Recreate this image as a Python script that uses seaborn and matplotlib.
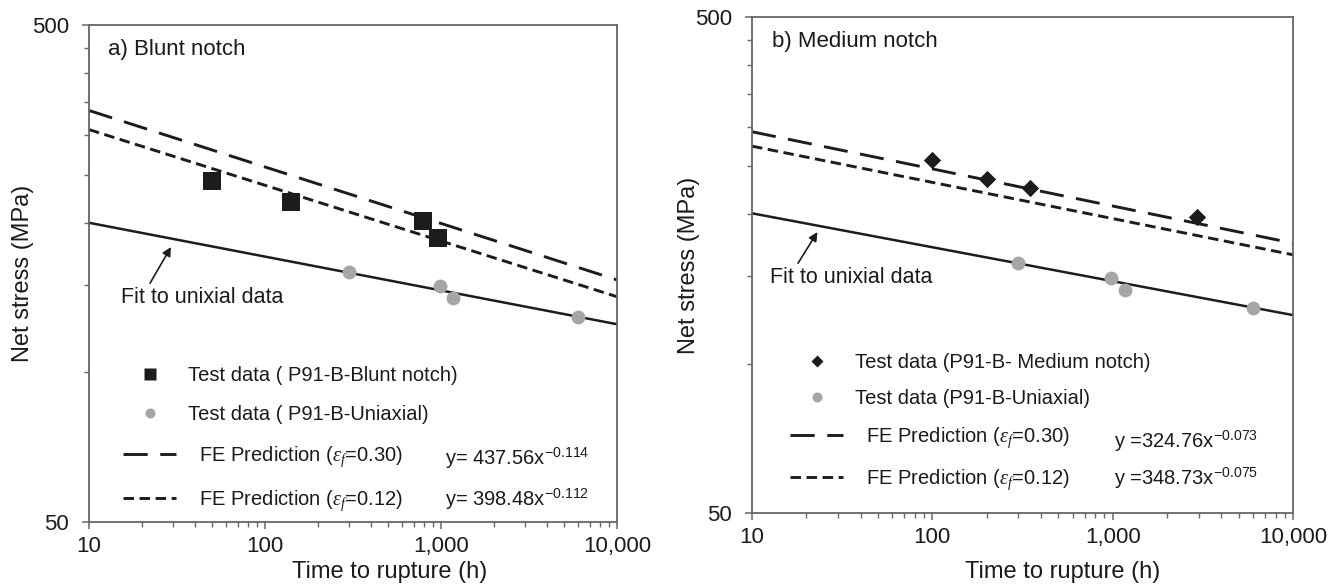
import numpy as np
import pandas as pd
import matplotlib
matplotlib.use("Agg")
import matplotlib.pyplot as plt
from matplotlib.lines import Line2D
from matplotlib.ticker import FixedLocator, FixedFormatter, NullFormatter, LogLocator
import seaborn as sns

# ---------------- data ----------------
x_tick_vals = [10, 100, 1000, 10000]
x_tick_labels = ["10", "100", "1,000", "10,000"]
y_tick_vals = [50, 500]
y_tick_labels = ["50", "500"]
y_minor_vals = [100, 150, 200, 250, 300, 350, 400, 450]

# uniaxial test data (same in both panels)
uni_time = [300, 985, 1165, 6000]
uni_stress = [159.5, 149, 141, 129.5]

# panel a) blunt notch
blunt_time = [50, 140, 795, 960]
blunt_stress = [243, 220, 202, 186]

# panel b) medium notch
medium_time = [100, 202, 347, 2950]
medium_stress = [258, 236, 226, 198]

# line end points (x = 10 and x = 10,000)
line_time = [10, 10000]
a_fit = [200, 125]
a_fe030 = [336.5, 153.5]
a_fe012 = [308, 142]
b_fit = [201, 125.3]
b_fe_dash = [293.5, 175]
b_fe_dot = [274.5, 165.8]

# ---------------- style ----------------
sns.set_style("ticks")
plt.rcParams["font.family"] = ["Liberation Sans", "DejaVu Sans"]
plt.rcParams["mathtext.fontset"] = "custom"
plt.rcParams["mathtext.rm"] = "Liberation Sans"
plt.rcParams["mathtext.sf"] = "Liberation Sans"
plt.rcParams["mathtext.it"] = "Liberation Serif:italic"

TXT = "#1a1a1a"
SPINE = "#666666"
BLACK = "#1c1c1c"
GREY = "#a6a6a6"

fig = plt.figure(figsize=(13.41, 5.88), dpi=100)
axA = fig.add_axes([89 / 1341, 1 - 522 / 588, 528 / 1341, 497 / 588])
axB = fig.add_axes([752 / 1341, 1 - 513 / 588, 541 / 1341, 496 / 588])

DASH = (0, (8.3, 4.3))
DOT = (0, (3.6, 1.9))


def draw_panel(ax, notch_t, notch_s, marker, msize, fit, fe_dash, fe_dot):
    dl = pd.DataFrame({"t": line_time, "fit": fit, "dash": fe_dash, "dot": fe_dot})
    sns.lineplot(data=dl, x="t", y="fit", ax=ax, color=BLACK, lw=1.8)
    sns.lineplot(data=dl, x="t", y="dash", ax=ax, color=BLACK, lw=2.1)
    ax.get_lines()[-1].set_linestyle(DASH)
    sns.lineplot(data=dl, x="t", y="dot", ax=ax, color=BLACK, lw=2.1)
    ax.get_lines()[-1].set_linestyle(DOT)

    du = pd.DataFrame({"t": uni_time, "s": uni_stress})
    sns.scatterplot(data=du, x="t", y="s", ax=ax, color=GREY, marker="o",
                    s=100, linewidth=0, zorder=5)
    dn = pd.DataFrame({"t": notch_t, "s": notch_s})
    sns.scatterplot(data=dn, x="t", y="s", ax=ax, color=BLACK, marker=marker,
                    s=msize, linewidth=0, zorder=6)

    ax.set_xscale("log")
    ax.set_yscale("log")
    ax.set_xlim(10, 10000)
    ax.set_ylim(50, 500)
    ax.xaxis.set_major_locator(FixedLocator(x_tick_vals))
    ax.xaxis.set_major_formatter(FixedFormatter(x_tick_labels))
    ax.xaxis.set_minor_locator(LogLocator(base=10, subs=np.arange(2, 10)))
    ax.xaxis.set_minor_formatter(NullFormatter())
    ax.yaxis.set_major_locator(FixedLocator(y_tick_vals))
    ax.yaxis.set_major_formatter(FixedFormatter(y_tick_labels))
    ax.yaxis.set_minor_locator(FixedLocator(y_minor_vals))
    ax.yaxis.set_minor_formatter(NullFormatter())
    ax.tick_params(which="major", length=5, width=1.1, color=SPINE,
                   labelsize=16, labelcolor=TXT)
    ax.tick_params(which="minor", length=3.8, width=1.0, color=SPINE)
    ax.tick_params(axis="x", which="major", pad=5)
    ax.tick_params(axis="y", which="major", pad=9.5)
    for sp in ax.spines.values():
        sp.set_visible(True)
        sp.set_color(SPINE)
        sp.set_linewidth(1.3)
    ax.set_xlabel("Time to rupture (h)", fontsize=17, color=TXT)
    ax.set_ylabel("Net stress (MPa)", fontsize=17, color=TXT)


draw_panel(axA, blunt_time, blunt_stress, "s", 150, a_fit, a_fe030, a_fe012)
draw_panel(axB, medium_time, medium_stress, "D", 78, b_fit, b_fe_dash, b_fe_dot)

axA.xaxis.set_label_coords(0.570, -0.0785)
axB.xaxis.set_label_coords(0.575, -0.0968)
axA.yaxis.set_label_coords(-0.104, 0.5)
axB.yaxis.set_label_coords(-0.096, 0.5)

# titles
axA.text(0.036, 0.9517, "a) Blunt notch", transform=axA.transAxes, fontsize=16,
         color=TXT, ha="left", va="center")
axB.text(0.037, 0.950, "b) Medium notch", transform=axB.transAxes, fontsize=16,
         color=TXT, ha="left", va="center")

# fit annotations
axA.annotate("Fit to unixial data", xy=(0.1553, 0.5533), xytext=(0.0597, 0.4527),
             xycoords="axes fraction", textcoords="axes fraction", fontsize=15.5,
             color=TXT, ha="left", va="center",
             arrowprops=dict(arrowstyle="-|>", color=BLACK, lw=1.2,
                             mutation_scale=13, shrinkA=0, shrinkB=0,
                             relpos=(0.17, 1.0)))
axB.annotate("Fit to unixial data", xy=(0.121, 0.5665), xytext=(0.0333, 0.4758),
             xycoords="axes fraction", textcoords="axes fraction", fontsize=15.5,
             color=TXT, ha="left", va="center",
             arrowprops=dict(arrowstyle="-|>", color=BLACK, lw=1.2,
                             mutation_scale=13, shrinkA=0, shrinkB=0,
                             relpos=(0.16, 1.0)))

# legends
def legend_for(ax, marker, ms, notch_label, uni_label, anchor, spacing):
    handles = [
        Line2D([], [], ls="", marker=marker, ms=ms, color=BLACK, mec="none"),
        Line2D([], [], ls="", marker="o", ms=7.2, color=GREY, mec="none"),
        Line2D([], [], ls=DASH, lw=2.1, color=BLACK),
        Line2D([], [], ls=DOT, lw=2.1, color=BLACK),
    ]
    labels = [notch_label, uni_label,
              "  FE Prediction ($\\varepsilon_f$=0.30)",
              "  FE Prediction ($\\varepsilon_f$=0.12)"]
    leg = ax.legend(handles, labels, loc="upper left", bbox_to_anchor=anchor,
                    frameon=False, fontsize=14.5, handlelength=2.65,
                    handletextpad=0.6, labelspacing=spacing, borderpad=0,
                    borderaxespad=0, labelcolor=TXT)
    return leg

legend_for(axA, "s", 8.6, "Test data ( P91-B-Blunt notch)",
           "Test data ( P91-B-Uniaxial)", (0.0644, 0.314), 1.0)
legend_for(axB, "D", 6.1, "Test data (P91-B- Medium notch)",
           "Test data (P91-B-Uniaxial)", (0.070, 0.323), 0.87)

# equations
axA.text(0.674, 0.1147, "y= 437.56x$^{-0.114}$", transform=axA.transAxes,
         fontsize=14.5, color=TXT, ha="left", va="baseline")
axA.text(0.674, 0.0322, "y= 398.48x$^{-0.112}$", transform=axA.transAxes,
         fontsize=14.5, color=TXT, ha="left", va="baseline")
axB.text(0.669, 0.131, "y =324.76x$^{-0.073}$", transform=axB.transAxes,
         fontsize=14.5, color=TXT, ha="left", va="baseline")
axB.text(0.669, 0.057, "y =348.73x$^{-0.075}$", transform=axB.transAxes,
         fontsize=14.5, color=TXT, ha="left", va="baseline")

fig.savefig("out.png", dpi=100)
